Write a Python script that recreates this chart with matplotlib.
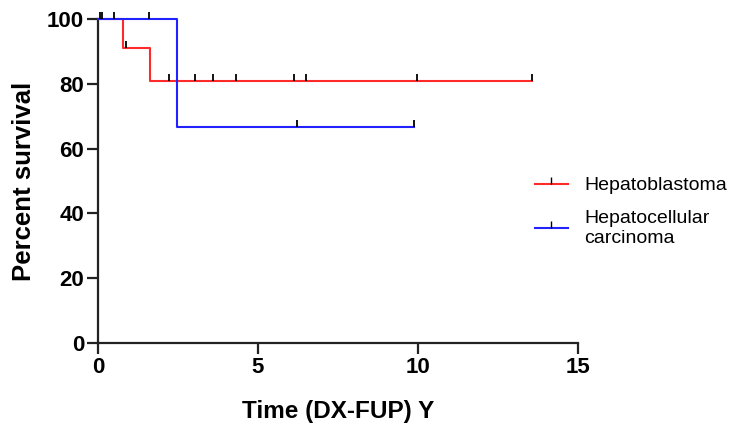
import matplotlib
matplotlib.use("Agg")
import matplotlib.pyplot as plt
import numpy as np

plt.rcParams['font.family'] = ['Liberation Sans', 'DejaVu Sans']

# Kaplan-Meier step curves (time in years, percent survival)
hb_times = [0, 0.78, 1.62, 13.57]
hb_surv = [100, 90.9, 80.8, 80.8]
hb_censor = [0.06, 0.51, 0.87, 2.23, 3.03, 3.58, 4.31, 6.12, 6.5, 9.98, 13.57]

hcc_times = [0, 2.48, 9.86]
hcc_surv = [100, 66.7, 66.7]
hcc_censor = [0.13, 1.6, 6.23, 9.86]

labels = ["Hepatoblastoma", "Hepatocellular\ncarcinoma"]


def surv_at(times, surv, t):
    idx = np.searchsorted(times, t, side='right') - 1
    return np.array(surv)[idx]


fig = plt.figure(figsize=(7.37, 4.28), dpi=100)
ax = fig.add_axes([98 / 737, 1 - 343 / 428, 480 / 737, 324 / 428])

series = [(hb_times, hb_surv, hb_censor, '#ff2a2a'),
          (hcc_times, hcc_surv, hcc_censor, '#2222ff')]
handles = []
for (t, s, c, col), lab in zip(series, labels):
    ax.step(t, s, where='post', color=col, lw=1.5, clip_on=False, zorder=3)
    # censored observations drawn as small upward ticks
    ax.plot(c, surv_at(t, s, c), ls='none', marker=2, color='black',
            ms=5, mew=1.3, clip_on=False, zorder=4)
    h, = ax.plot([], [], color=col, lw=1.5, marker=2, mec='black', ms=5, mew=1.0)
    handles.append(h)

ax.set_xlim(0, 15)
ax.set_ylim(0, 100)
ax.set_xticks([0, 5, 10, 15])
ax.set_yticks([0, 20, 40, 60, 80, 100])
for side in ['top', 'right']:
    ax.spines[side].set_visible(False)
for side in ['left', 'bottom']:
    ax.spines[side].set_linewidth(1.6)
    ax.spines[side].set_color('#222222')
ax.tick_params(direction='out', width=1.6, length=8, labelsize=16, color='#222222', pad=2)
for lab in ax.get_xticklabels() + ax.get_yticklabels():
    lab.set_fontweight('bold')

ax.set_xlabel("Time (DX-FUP) Y", fontsize=17.5, fontweight='bold', labelpad=16)
ax.set_ylabel("Percent survival", fontsize=18.5, fontweight='bold', labelpad=8)

fig.legend(handles, labels, loc='upper left', bbox_to_anchor=(527 / 737, 1 - 169 / 428),
           frameon=False, fontsize=14, handlelength=1.7, handletextpad=0.85,
           labelspacing=0.8, borderaxespad=0)

fig.savefig("out.png", dpi=100)
